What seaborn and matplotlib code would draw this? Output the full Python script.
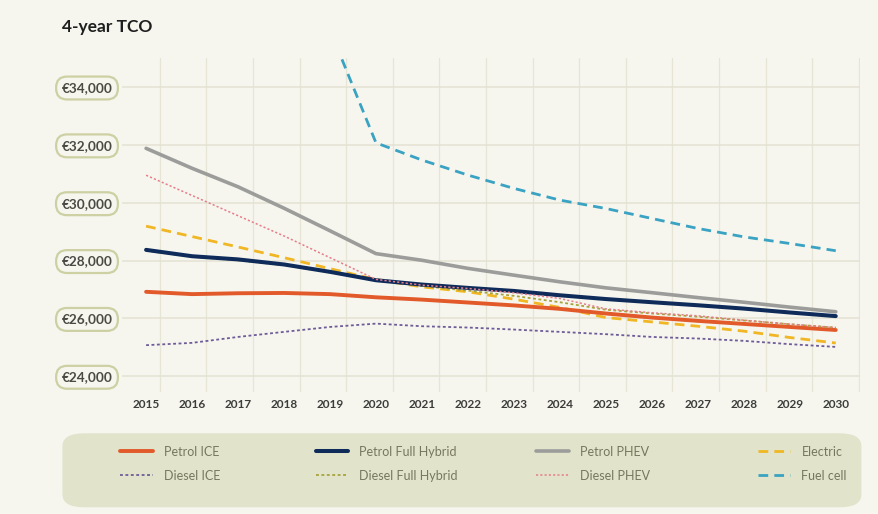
import numpy as np
import pandas as pd
import matplotlib.pyplot as plt
import seaborn as sns
from matplotlib.patches import FancyBboxPatch
from matplotlib.lines import Line2D

#%% data (EUR, 4-year total cost of ownership)
years = list(range(2015, 2031))

petrol_ice = [26920, 26840, 26870, 26880, 26840, 26730, 26650, 26550, 26450, 26330,
              26170, 26030, 25915, 25810, 25705, 25600]
petrol_full_hybrid = [28370, 28150, 28040, 27865, 27610, 27320, 27170, 27055, 26950, 26800,
                      26670, 26560, 26455, 26340, 26205, 26080]
petrol_phev = [31880, 31190, 30550, 29810, 29030, 28240, 28010, 27730, 27495, 27265,
               27057, 26890, 26720, 26560, 26390, 26230]
electric = [29190, 28830, 28470, 28100, 27720, 27345, 27090, 26920, 26665, 26380,
            26030, 25880, 25730, 25560, 25340, 25150]
diesel_ice = [25075, 25155, 25360, 25535, 25705, 25820, 25730, 25685, 25615, 25535,
              25455, 25360, 25305, 25225, 25110, 25015]
diesel_full_hybrid = [28340, 28130, 28010, 27840, 27590, 27330, 27120, 26960, 26780, 26560,
                      26300, 26170, 26060, 25930, 25800, 25680]
diesel_phev = [30950, 30250, 29550, 28850, 28100, 27350, 27150, 27035, 26885, 26690,
               26330, 26195, 26090, 25940, 25800, 25685]
fuel_cell = [np.nan, np.nan, np.nan, np.nan, 35970, 32070, 31475, 30955, 30495, 30090,
             29800, 29455, 29110, 28820, 28590, 28340]

y_ticks = [24000, 26000, 28000, 30000, 32000, 34000]
y_labels = ['€24,000', '€26,000', '€28,000', '€30,000', '€32,000', '€34,000']

series = {
    'Petrol ICE': petrol_ice,
    'Diesel ICE': diesel_ice,
    'Petrol Full Hybrid': petrol_full_hybrid,
    'Diesel Full Hybrid': diesel_full_hybrid,
    'Petrol PHEV': petrol_phev,
    'Diesel PHEV': diesel_phev,
    'Electric': electric,
    'Fuel cell': fuel_cell,
}

# colour, linestyle, linewidth
styles = {
    'Petrol ICE': ('#e2592a', '-', 2.8),
    'Diesel ICE': ('#6e5c98', (0, (1.6, 1.4)), 1.3),
    'Petrol Full Hybrid': ('#0e2b5a', '-', 2.9),
    'Diesel Full Hybrid': ('#a7a33c', (0, (1.6, 1.4)), 1.3),
    'Petrol PHEV': ('#9c9c9a', '-', 2.6),
    'Diesel PHEV': ('#e77d8b', (0, (1.4, 1.4)), 1.1),
    'Electric': ('#f0b623', (0, (3.5, 2.2)), 2.0),
    'Fuel cell': ('#3aa2c2', (0, (3.5, 2.2)), 2.0),
}

df = pd.DataFrame([(k, y, v) for k, vals in series.items() for y, v in zip(years, vals)],
                  columns=['vehicle', 'year', 'tco'])

#%% plot
bg = '#f6f6ef'
sns.set_theme(style='white')
plt.rcParams['font.family'] = ['Lato', 'DejaVu Sans']

fig = plt.figure(figsize=(8.79, 5.14), dpi=100, facecolor=bg)
ax = fig.add_axes([0.139, 0.237, 0.839, 0.650])
ax.set_facecolor(bg)

# draw order: back to front roughly like the original
order = ['Fuel cell', 'Petrol PHEV', 'Diesel ICE', 'Electric', 'Petrol ICE',
         'Diesel Full Hybrid', 'Petrol Full Hybrid', 'Diesel PHEV']
for name in order:
    c, ls, lw = styles[name]
    sns.lineplot(data=df[df['vehicle'] == name], x='year', y='tco', ax=ax,
                 color=c, linestyle=ls, linewidth=lw, legend=False)

ax.set_xlim(2014.48, 2030.52)
ax.set_ylim(23450, 35000)
ax.set_xticks(years)
ax.set_xticklabels([str(y) for y in years], fontsize=8.5, fontweight='bold', color='#3c3c3a')
ax.set_yticks(y_ticks)
ax.set_yticklabels(y_labels, fontsize=9.8, fontweight='bold', color='#4a4a44')
for lab in ax.get_yticklabels():
    lab.set_bbox(dict(boxstyle='round,pad=0.4,rounding_size=0.8', fc=bg,
                      ec='#cdd0a2', lw=1.6))
ax.tick_params(axis='y', length=0, pad=7)
ax.tick_params(axis='x', length=0, pad=5)
ax.set_xlabel('')
ax.set_ylabel('')

ax.set_xticks(np.linspace(2015.3, 2030.5, 16), minor=True)
ax.tick_params(which='minor', length=0)
ax.grid(which='minor', axis='x', color='#e7e5d5', lw=0.9)
ax.grid(which='major', axis='y', color='#e4e2d2', lw=1.1)
ax.grid(which='major', axis='x', visible=False)
for s in ax.spines.values():
    s.set_visible(False)

fig.text(0.071, 0.947, '4-year TCO', fontsize=12.5, fontweight='bold',
         color='#1e1e1e', va='center')

#%% legend panel
panel = FancyBboxPatch((0.071, 0.013), 0.909, 0.144,
                       boxstyle='round,pad=0,rounding_size=0.025',
                       transform=fig.transFigure, fc='#e1e4ca', ec='none', zorder=0)
fig.patches.append(panel)

col_x = [0.137, 0.359, 0.610, 0.862]
cols = [['Petrol ICE', 'Diesel ICE'], ['Petrol Full Hybrid', 'Diesel Full Hybrid'],
        ['Petrol PHEV', 'Diesel PHEV'], ['Electric', 'Fuel cell']]
for x0, names in zip(col_x, cols):
    handles = []
    for name in names:
        c, ls, lw = styles[name]
        handles.append(Line2D([], [], color=c, linestyle=ls, linewidth=lw))
    leg = fig.legend(handles, names, loc='center left', bbox_to_anchor=(x0, 0.098),
                     frameon=False, fontsize=9, handlelength=2.6, handletextpad=0.9,
                     labelspacing=0.95, borderaxespad=0, borderpad=0)
    for t in leg.get_texts():
        t.set_color('#77775f')

fig.savefig('out.png', dpi=100, facecolor=bg)
